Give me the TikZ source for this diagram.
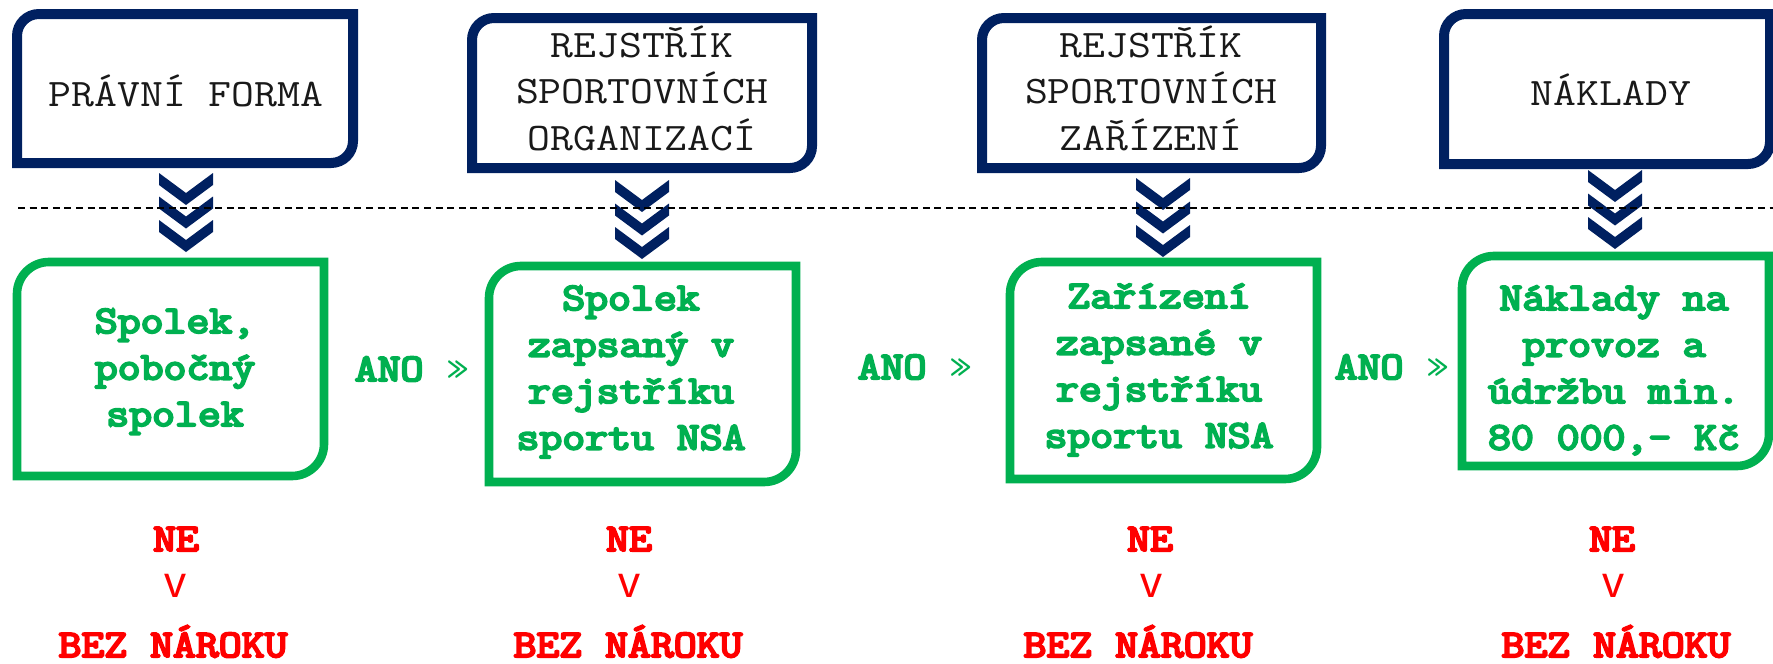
\documentclass[tikz,border=0pt]{standalone}
\usepackage{fontspec}
\newfontfamily\sansv{Liberation Sans}
\definecolor{navy}{HTML}{002060}
\definecolor{grn}{HTML}{00B050}
\definecolor{rd}{HTML}{FF0000}
% box with rounded top-left and bottom-right corners: x1 y1 x2 y2 r style
\newcommand\rdbox[6]{%
  \draw[#6] (#1,#2+#5) arc (180:270:#5) -- (#3,#2) -- (#3,#4-#5) arc (0:90:#5) -- (#1,#4) -- cycle;}
\newcommand\chev[2]{%
  \fill[navy] (#1-27,#2) -- (#1,#2+20) -- (#1+27,#2) -- (#1+27,#2+12) -- (#1,#2+32) -- (#1-27,#2+12) -- cycle;}
\newcommand\chevs[2]{\chev{#1}{#2}\chev{#1}{#2+23.5}\chev{#1}{#2+47}}
\newcommand\fbold[1]{\special{pdf:literal direct 2 Tr 1.0 w}#1\special{pdf:literal direct 0 Tr}}
\newcommand\mlines[1]{\scalebox{1.14}[1]{\begin{tabular}[t]{@{}c@{}}#1\end{tabular}}}
\newcommand\wide[1]{\scalebox{1.14}[1]{#1}}
\tikzset{
  navybox/.style={draw=navy, line width=5pt},
  grnbox/.style={draw=grn, line width=4.3pt},
  navytxt/.style={inner sep=0pt, anchor=base, text=black!90, font=\ttfamily\fontsize{19.5}{23.25}\selectfont},
  grntxt/.style={inner sep=0pt, anchor=base, text=grn, font=\ttfamily\fontsize{19.5}{23.25}\selectfont},
  anotxt/.style={inner sep=0pt, anchor=base, text=grn, font=\ttfamily\fontsize{19.5}{23.25}\selectfont},
  netxt/.style={inner sep=0pt, anchor=base, text=rd, font=\ttfamily\fontsize{19.5}{23.25}\selectfont},
  vtxt/.style={inner sep=0pt, anchor=base, text=rd, font=\sansv\fontsize{22}{24}\selectfont},
  sepline/.style={draw=black, line width=0.7pt, dash pattern=on 3.5pt off 2.3pt}
}
\begin{document}
\begin{tikzpicture}[x=0.5pt, y=-0.5pt]
\fill[white] (0,0) rectangle (1773,664);
\useasboundingbox (0,0) rectangle (1773,664);

% top (navy) boxes
\rdbox{17}{14}{353}{163}{22}{navybox}
\rdbox{472}{18}{812}{168}{22}{navybox}
\rdbox{982}{18}{1321}{168}{22}{navybox}
\rdbox{1444}{14}{1770}{164}{22}{navybox}

\node[navytxt] (t1) at (186,106) {\wide{PRÁVNÍ FORMA}};
\node[navytxt] (t2) at (642,57) {\mlines{REJSTŘÍK\\SPORTOVNÍCH\\ORGANIZACÍ}};
\node[navytxt] (t3) at (1151,57) {\mlines{REJSTŘÍK\\SPORTOVNÍCH\\ZAŘÍZENÍ}};
\node[navytxt] (t4) at (1611,105) {\wide{NÁKLADY}};

% chevrons
\chevs{186}{173}
\chevs{642}{180}
\chevs{1163}{178}
\chevs{1615}{170}

% dashed separator
\coordinate (dl) at (18,208);
\coordinate (dr) at (1773,208);
\draw[sepline] (dl) -- (dr);

% green boxes
\rdbox{17}{262}{324}{476}{32}{grnbox}
\rdbox{489}{266}{796}{482}{32}{grnbox}
\rdbox{1010}{262}{1317}{479}{32}{grnbox}
\rdbox{1462}{256}{1769}{466}{32}{grnbox}

\node[grntxt] (g1) at (175,333) {\fbold{\mlines{Spolek,\\pobočný\\spolek}}};
\node[grntxt] (g2) at (631,310) {\fbold{\mlines{Spolek\\zapsaný v\\rejstříku\\sportu NSA}}};
\node[grntxt] (g3) at (1159,308) {\fbold{\mlines{Zařízení\\zapsané v\\rejstříku\\sportu NSA}}};
\node[grntxt] (g4) at (1614,310) {\fbold{\mlines{Náklady na\\provoz a\\údržbu min.\\80 000,- Kč}}};

% ANO labels
\node[anotxt] (a1) at (412,381) {\wide{\fbold{ANO} »}};
\node[anotxt] (a2) at (915,379) {\wide{\fbold{ANO} »}};
\node[anotxt] (a3) at (1392,379) {\wide{\fbold{ANO} »}};

% NE branches
\node[netxt] (n1) at (176,551) {\fbold{\wide{NE}}};
\node[netxt] (n2) at (629,551) {\fbold{\wide{NE}}};
\node[netxt] (n3) at (1150,551) {\fbold{\wide{NE}}};
\node[netxt] (n4) at (1612,551) {\fbold{\wide{NE}}};

\node[vtxt] (v1) at (175,597) {v};
\node[vtxt] (v2) at (629,597) {v};
\node[vtxt] (v3) at (1151,597) {v};
\node[vtxt] (v4) at (1613,597) {v};

\node[netxt] (b1) at (173,657) {\fbold{\wide{BEZ NÁROKU}}};
\node[netxt] (b2) at (628,657) {\fbold{\wide{BEZ NÁROKU}}};
\node[netxt] (b3) at (1138,657) {\fbold{\wide{BEZ NÁROKU}}};
\node[netxt] (b4) at (1616,657) {\fbold{\wide{BEZ NÁROKU}}};
\end{tikzpicture}
\end{document}
